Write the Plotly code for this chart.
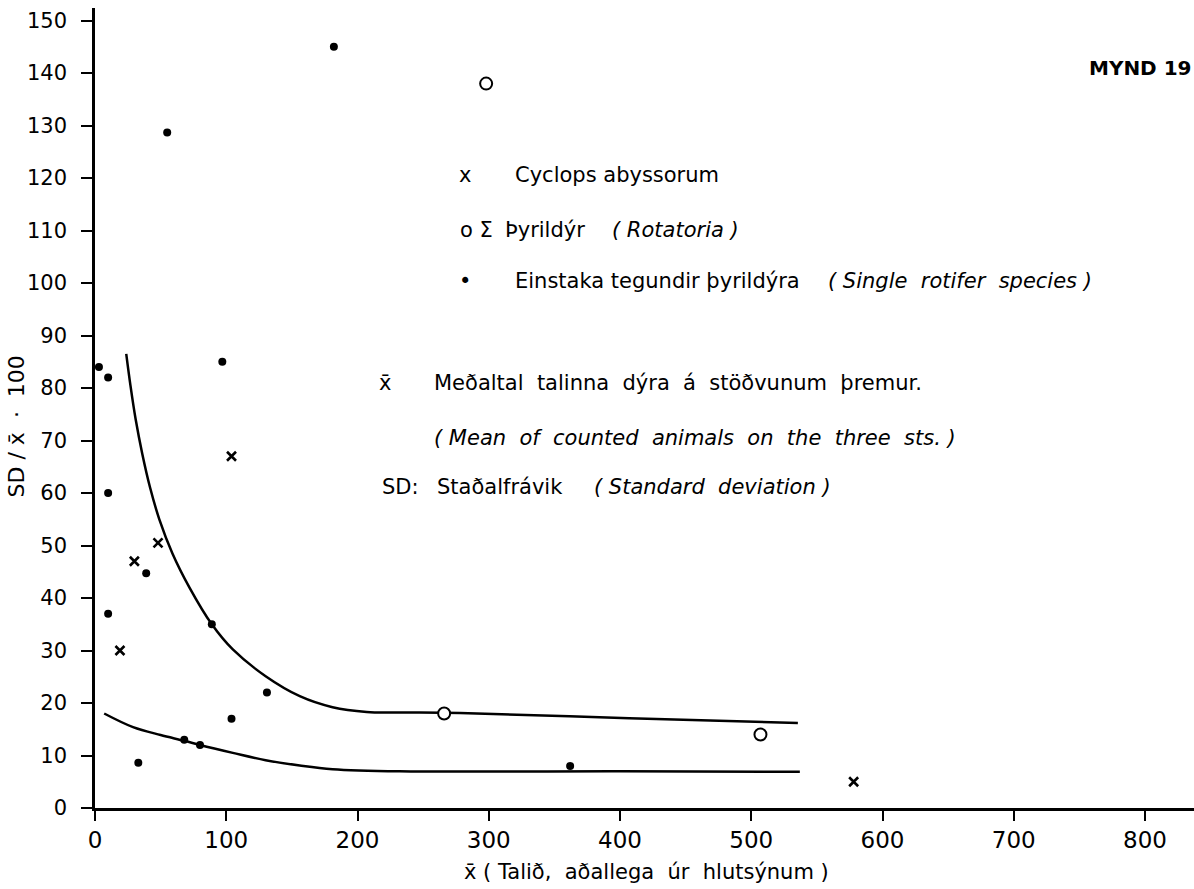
import plotly.graph_objects as go

# ---- data ----
cyclops_x = [19, 30, 48, 104, 578]
cyclops_y = [30, 47, 50.5, 67, 5]

rotatoria_x = [266, 298, 507]
rotatoria_y = [18, 138, 14]

single_x = [3, 10, 10, 10, 33, 39, 55, 68, 80, 89, 97, 104, 131, 182, 362]
single_y = [84, 82, 60, 37, 8.6, 44.7, 128.7, 13, 12, 35, 85, 17, 22, 145, 8]

upper_x = [23.8, 27, 31, 36, 42, 49, 59, 72, 89, 105, 130, 156, 181, 207, 232, 278, 407, 535.5]
upper_y = [86.5, 80.5, 74.0, 67.5, 61.0, 55.0, 48.5, 42.0, 35.0, 30.2, 25.1, 21.3, 19.2, 18.3, 18.2, 18.1, 17.1, 16.2]

lower_x = [7, 29, 50, 68, 80, 105, 130, 156, 181, 232, 400, 537]
lower_y = [18.0, 15.4, 13.9, 12.8, 12.0, 10.5, 9.1, 8.1, 7.4, 7.0, 7.0, 6.9]

x_ticks = [0, 100, 200, 300, 400, 500, 600, 700, 800]
y_ticks = list(range(0, 151, 10))

FONT = "DejaVu Sans"
BLACK = "black"

fig = go.Figure()

fig.add_trace(go.Scatter(x=upper_x, y=upper_y, mode="lines", line=dict(color=BLACK, width=2.5, shape="spline", smoothing=1.0),
                         showlegend=False, hoverinfo="skip"))
fig.add_trace(go.Scatter(x=lower_x, y=lower_y, mode="lines", line=dict(color=BLACK, width=2.5, shape="spline", smoothing=1.0),
                         showlegend=False, hoverinfo="skip"))

fig.add_trace(go.Scatter(x=cyclops_x, y=cyclops_y, mode="markers", name="Cyclops abyssorum",
                         marker=dict(symbol="x-thin", size=9, line=dict(color=BLACK, width=2.6)),
                         cliponaxis=False, showlegend=False))
fig.add_trace(go.Scatter(x=rotatoria_x, y=rotatoria_y, mode="markers", name="Rotatoria",
                         marker=dict(symbol="circle", size=12, color="white", line=dict(color=BLACK, width=2)),
                         cliponaxis=False, showlegend=False))
fig.add_trace(go.Scatter(x=single_x, y=single_y, mode="markers", name="Single rotifer species",
                         marker=dict(symbol="circle", size=8, color=BLACK),
                         cliponaxis=False, showlegend=False))

ann = []
def txt(x, y, s, size=21, xanchor="left", **kw):
    ann.append(dict(x=x, y=y, xref="x", yref="y", text=s, showarrow=False, xanchor=xanchor, yanchor="middle",
                    font=dict(family=FONT, size=size, color=BLACK), **kw))

# key
txt(281.9, 120.6, "x", xanchor="center")
txt(318.1, 120.6, "Cyclops abyssorum")
txt(276.5, 110.2, "o Σ")
txt(311.2, 110.2, "Þyrildýr")
txt(392.0, 110.2, "<i>( Rotatoria )</i>")
txt(281.9, 100.4, "•", xanchor="center")
txt(318.1, 100.4, "Einstaka tegundir þyrildýra")
txt(557.3, 100.4, "<i>( Single  rotifer  species )</i>")
txt(220.6, 81.0, "x̄", xanchor="center")
txt(257.1, 81.0, "Meðaltal  talinna  dýra  á  stöðvunum  þremur.")
txt(257.1, 70.5, "<i>( Mean  of  counted  animals  on  the  three  sts. )</i>")
txt(216.8, 61.2, "SD:")
txt(258.7, 61.2, "Staðalfrávik")
txt(378.3, 61.2, "<i>( Standard  deviation )</i>")
txt(755.4, 141.0, "<b>MYND 19</b>", size=20)

# axis titles
ann.append(dict(x=420.0, y=-0.0796, xref="x", yref="paper", text="x̄ ( Talið,  aðallega  úr  hlutsýnum )",
                showarrow=False, xanchor="center", yanchor="middle", font=dict(family=FONT, size=21, color=BLACK)))
ann.append(dict(x=-0.0714, y=72.6, xref="paper", yref="y", text="SD / x̄  ·  100", textangle=-90,
                showarrow=False, xanchor="center", yanchor="middle", font=dict(family=FONT, size=22, color=BLACK)))

fig.update_layout(
    width=1194, height=889, autosize=False,
    margin=dict(l=95, r=0, t=8, b=81),
    paper_bgcolor="white", plot_bgcolor="white",
    annotations=ann,
    xaxis=dict(range=[0, 837.3], tickvals=x_ticks, ticktext=[str(v) for v in x_ticks],
               ticks="outside", ticklen=10, tickwidth=2, tickcolor=BLACK,
               showline=True, linewidth=2.5, linecolor=BLACK, showgrid=False, zeroline=False,
               tickfont=dict(family=FONT, size=23, color=BLACK), ticklabelstandoff=0),
    yaxis=dict(range=[0, 152.4], tickvals=y_ticks, ticktext=[str(v) for v in y_ticks],
               ticks="outside", ticklen=11, tickwidth=2, tickcolor=BLACK,
               showline=True, linewidth=2.5, linecolor=BLACK, showgrid=False, zeroline=False,
               tickfont=dict(family=FONT, size=21, color=BLACK), ticklabelstandoff=10),
)

fig.write_html("out.html")
